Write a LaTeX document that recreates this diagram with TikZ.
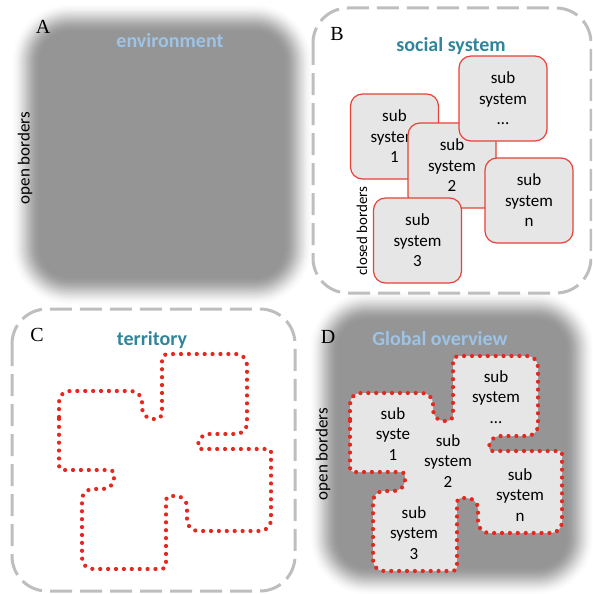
\documentclass[tikz,border=0pt]{standalone}
\usepackage{fontspec}
\setmainfont{Carlito}
\newfontfamily\letterserif{Liberation Serif}
\definecolor{panelgray}{RGB}{149,149,149}
\definecolor{boxfill}{RGB}{230,230,230}
\definecolor{boxred}{RGB}{230,66,56}
\definecolor{dotred}{RGB}{228,40,32}
\definecolor{dashgray}{RGB}{190,190,190}
\definecolor{lightblue}{RGB}{157,195,230}
\definecolor{tealtitle}{RGB}{49,133,155}
\newcommand\mysubfont{\fontsize{17}{20.5}\selectfont}
\newcommand\mytitlefont{\fontsize{20}{24}\selectfont\bfseries}
\newcommand\myletterfont{\fontsize{20}{24}\selectfont\letterserif}
\newcommand\softpanel[4]{%
  \foreach \i in {1,...,18}{%
    \pgfmathsetmacro\tt{\i/18}%
    \pgfmathsetmacro\d{30*(1-\tt)}%
    \pgfmathsetmacro\p{100*\tt*\tt*(3-2*\tt)}%
    \pgfmathsetmacro\rr{30+\d}%
    \fill[panelgray!\p!white, rounded corners=\rr pt] ({#1-\d},{#2-\d}) rectangle ({#3+\d},{#4+\d});
  }%
}
\tikzset{
  subbox/.style={draw=boxred, fill=boxfill, line width=1.2pt, rounded corners=12pt,
    minimum width=88pt, minimum height=85pt, align=center, font=\mysubfont, inner sep=0pt},
  subtext/.style={align=center, font=\mysubfont, inner sep=0pt},
  paneltitle/.style={font=\mytitlefont, anchor=base, inner sep=0pt},
  panelletter/.style={font=\myletterfont, inner sep=0pt},
  dashpanel/.style={draw=dashgray, line width=3pt, dash pattern=on 22pt off 8pt, rounded corners=35pt},
  dotline/.style={draw=dotred, line width=4.2pt, line cap=round, dash pattern=on 0pt off 7.9pt},
  sidelabel/.style={rotate=90, font=\mysubfont, inner sep=0pt},
  territory/.pic={
    \path[pic actions] (350,430) [rounded corners=11pt] -- (350,393)
      [rounded corners=11pt] -- (433,393)
      [rounded corners=11pt] -- (433,421)
      [rounded corners=6pt] -- (453,421)
      [rounded corners=6pt] -- (453,356)
      [rounded corners=11pt] -- (538,356)
      [rounded corners=11pt] -- (538,436)
      [rounded corners=11pt] -- (489,436)
      [rounded corners=3pt] -- (489,451)
      [rounded corners=3pt] -- (562,451)
      [rounded corners=11pt] -- (562,533)
      [rounded corners=11pt] -- (478,533)
      [rounded corners=11pt] -- (478,498)
      [rounded corners=4pt] -- (457,498)
      [rounded corners=4pt] -- (457,571)
      [rounded corners=11pt] -- (373,571)
      [rounded corners=11pt] -- (373,491)
      [rounded corners=11pt] -- (405,491)
      [rounded corners=4pt] -- (405,472)
      [rounded corners=4pt] -- (350,472)
      [rounded corners=11pt] -- cycle;
  }
}
\begin{document}
\begin{tikzpicture}[x=1pt, y=-1pt]
\useasboundingbox (0,0) rectangle (592,594);
\clip (0,0) rectangle (592,594);
% panel backgrounds (soft edges)
\softpanel{40}{32}{284}{277}
\softpanel{338}{320}{566}{567}
% dashed panels
\draw[dashpanel] (313,8) rectangle (591,293);
\draw[dashpanel] (12,309) rectangle (295,591);
% panel A
\node[panelletter] (la) at (43,27) {A};
\node[paneltitle, text=lightblue] (tenv) at (170,48) {environment};
\node[sidelabel] (oba) at (25,158) {open borders};
% panel B
\node[panelletter] (lb) at (337,34) {B};
\node[paneltitle, text=tealtitle] (tsoc) at (451,52) {social system};
\node[subbox] (b1) at (394.5,136.5) {sub\\system\\1};
\node[subbox] (b2) at (452,165.5) {sub\\system\\2};
\node[subbox] (bdots) at (503,98.5) {sub\\system\\\dots};
\node[subbox] (bn) at (529,200.5) {sub\\system\\n};
\node[subbox] (b3) at (417.5,240.5) {sub\\system\\3};
\node[sidelabel, font=\fontsize{15}{18}\selectfont] (cbb) at (362,231) {closed borders};
% panel C
\node[panelletter] (lc) at (37,335) {C};
\node[paneltitle, text=tealtitle] (tter) at (152,345) {territory};
\pic[dotline] at (-291,-2) {territory};
% panel D
\node[panelletter] (ld) at (328,337) {D};
\node[paneltitle, text=lightblue] (tglob) at (440,345) {Global overview};
\node[sidelabel] (obd) at (323,454) {open borders};
\pic[dotline, fill=boxfill] at (0,0) {territory};
\node[subtext] (d1) at (393,434) {sub\\syste\\1};
\node[subtext] (d2) at (448,461) {sub\\system\\2};
\node[subtext] (ddots) at (496,397) {sub\\system\\\dots};
\node[subtext] (dn) at (520,495) {sub\\system\\n};
\node[subtext] (d3) at (414,533) {sub\\system\\3};
\end{tikzpicture}
\end{document}
